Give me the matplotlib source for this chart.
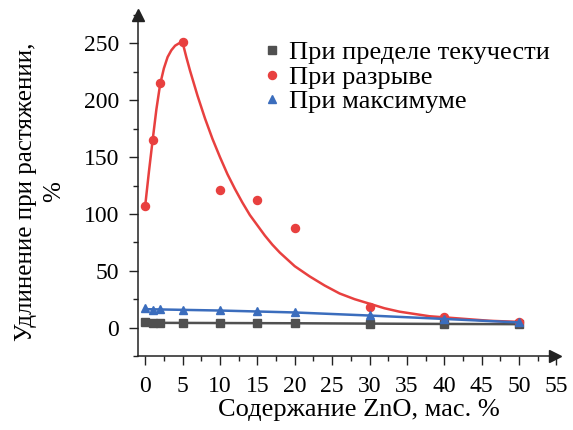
import matplotlib
matplotlib.use("Agg")
import matplotlib.pyplot as plt
from matplotlib.lines import Line2D
from matplotlib.ticker import MultipleLocator

plt.rcParams['font.family'] = ['Liberation Serif', 'DejaVu Serif']
plt.rcParams['mathtext.fontset'] = 'stix'

# ---- data ----
zno = [0, 1, 2, 5, 10, 15, 20, 30, 40, 50]
yield_vals = [4.5, 3.8, 3.8, 3.8, 3.8, 3.8, 3.8, 3.0, 3.0, 2.8]
break_vals = [107, 165, 215, 251, 121, 112, 88, 18, 9, 5]
max_vals = [17.5, 15.5, 16.5, 15.9, 15.3, 14.4, 14.0, 11.5, 7.7, 5.3]

yield_fit_x = [0, 10, 20, 30, 40, 50]
yield_fit_y = [4.2, 4.0, 3.8, 3.5, 3.2, 3.0]
max_fit_x = [0, 10, 20, 30, 40, 50]
max_fit_y = [16.2, 15.0, 13.3, 10.6, 7.6, 4.5]
break_fit_x = [0, 0.5, 1, 1.5, 2, 2.5, 3, 3.5, 4, 4.5, 5, 5.5, 6, 6.5, 7, 7.5, 8, 9,
               10, 11, 12, 13, 14, 15, 16, 17, 18, 19, 20, 22, 24, 26, 28, 30,
               32, 34, 36, 38, 40, 42, 44, 46, 48, 50]
break_fit_y = [107, 137, 165, 192, 214, 228, 238, 244, 248, 250, 251, 238, 226, 215, 204,
               194, 184, 166, 150, 135, 122, 110, 99, 90, 81, 73, 66, 60, 54,
               45, 37, 30, 25, 21, 17, 14, 12, 10, 9, 8, 7, 6, 5.5, 5]

labels = ["При пределе текучести", "При разрыве", "При максимуме"]
xlabel = "Содержание ZnO, мас. %"
ylabel = "Удлинение при растяжении,\n%"

c_gray = "#505050"
c_red = "#e8403f"
c_blue = "#3b6dbd"

fig = plt.figure(figsize=(5.73, 4.30), dpi=100)
ax = fig.add_axes([0.2403, 0.1721, 0.7335, 0.793])

ax.plot(yield_fit_x, yield_fit_y, color=c_gray, lw=1.8, zorder=2)
ax.plot(zno, yield_vals, 's', color=c_gray, ms=5.2, zorder=3)
ax.plot(break_fit_x, break_fit_y, color=c_red, lw=1.8, zorder=4)
ax.plot(zno, break_vals, 'o', color=c_red, ms=5.8, zorder=5)
ax.plot(max_fit_x, max_fit_y, color=c_blue, lw=1.8, zorder=6)
ax.plot(zno, max_vals, '^', color=c_blue, ms=6, zorder=7)

ax.set_xlim(-1.0, 55.2)
ax.set_ylim(-25, 275)
ax.xaxis.set_minor_locator(MultipleLocator(2.5))
ax.yaxis.set_minor_locator(MultipleLocator(25))
ax.set_xticks(range(0, 56, 5))
ax.set_yticks(range(0, 251, 50))

for s in ['top', 'right']:
    ax.spines[s].set_visible(False)
for s in ['left', 'bottom']:
    ax.spines[s].set_linewidth(1.1)
    ax.spines[s].set_color('#222222')

ax.tick_params(axis='both', which='major', length=6.5, width=1.0, labelsize=17,
               direction='out', color='#222222')
ax.tick_params(axis='both', which='minor', length=3.5, width=1.0, direction='out',
               color='#222222')
ax.tick_params(axis='x', which='major', pad=8)
ax.tick_params(axis='y', which='major', pad=7)

# axis arrows
ax.plot(0.993, 0, '>', color='#222222', ms=8, transform=ax.transAxes, clip_on=False, zorder=10)
ax.plot(0, 1, '^', color='#222222', ms=8, transform=ax.transAxes, clip_on=False, zorder=10)

ax.set_xlabel(xlabel, fontsize=19)
ax.xaxis.set_label_coords(0.5265, -0.126)
ax.set_ylabel(ylabel, fontsize=18, linespacing=1.35)
ax.yaxis.set_label_coords(-0.172, 0.481)

handles = [
    Line2D([], [], ls='none', marker='s', color=c_gray, ms=5.2),
    Line2D([], [], ls='none', marker='o', color=c_red, ms=5.8),
    Line2D([], [], ls='none', marker='^', color=c_blue, ms=6),
]
fig.legend(handles, labels, loc='upper left', bbox_to_anchor=(0.4625, 0.905),
           frameon=False, fontsize=19, handlelength=0.5, handletextpad=0.4,
           labelspacing=0.04, borderpad=0, borderaxespad=0)

fig.savefig("out.png", dpi=100)
